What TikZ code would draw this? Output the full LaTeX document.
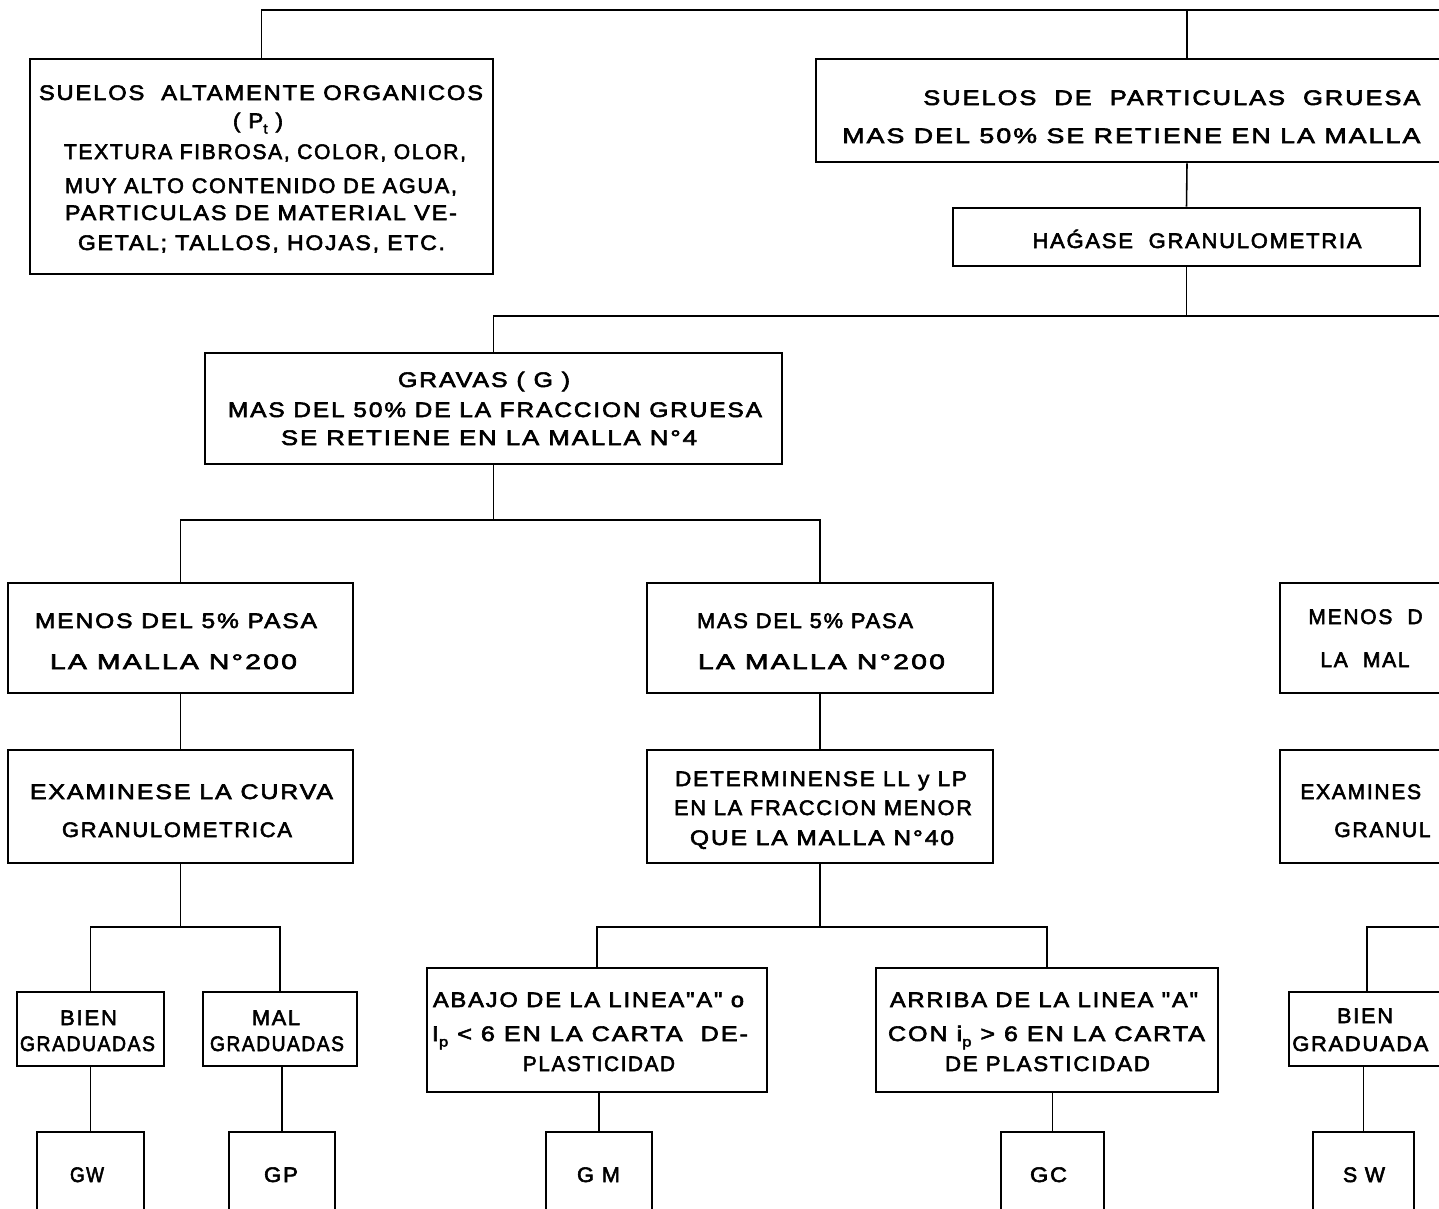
\documentclass[tikz,border=0pt]{standalone}
\usepackage{fontspec}
\usepackage{graphicx}
\setmainfont{Liberation Sans}[LetterSpace=8,FakeBold=2.6,Ligatures=TeXOff]
\newlength\pxu
\setlength\pxu{0.02cm}
% centred text line stretched to a given width (in drawing units)
\newcommand\lineat[5]{\node[txt] (#1) at (#2,#3) {\resizebox{#4\pxu}{\height}{#5}};}
% text line starting at a given left end
\newcommand\lineW[4]{\node[txtw] (#1) at (#2,#3) {#4};}
\newcommand\lowsub[1]{\raisebox{-0.5ex}{\footnotesize #1}}

\begin{document}
\begin{tikzpicture}[x=0.02cm, y=-0.02cm,
  box/.style={draw, line width=1.5pt, inner sep=0pt},
  dim/.style 2 args={minimum width=#1*0.02cm, minimum height=#2*0.02cm},
  link/.style={line width=0.9pt},
  txt/.style={anchor=base, inner sep=0pt, font=\fontsize{12}{14}\selectfont},
  txtw/.style={anchor=base west, inner sep=0pt, font=\fontsize{12}{14}\selectfont}]
\useasboundingbox (0,0) rectangle (1439,1208);
\fill[white] (0,0) rectangle (1439,1208);
\clip (0,0) rectangle (1439,1208);

% ---------- boxes ----------
\node[box, dim={463}{215}] (org)  at (261.5,166.5) {};
\node[box, dim={742}{103}] (part) at (1187,110.5) {};
\node[box, dim={467}{58}]  (hag)  at (1186.5,237) {};
\node[box, dim={577}{111}] (grav) at (493.5,408.5) {};
\node[box, dim={345}{110}] (menos) at (180.5,638) {};
\node[box, dim={346}{110}] (mas)   at (820,638) {};
\node[box, dim={345}{110}] (menosR) at (1452.5,638) {};
\node[box, dim={345}{113}] (exa)  at (180.5,806.5) {};
\node[box, dim={346}{113}] (det)  at (820,806.5) {};
\node[box, dim={345}{113}] (exaR) at (1452.5,806.5) {};
\node[box, dim={147}{74}]  (bien) at (90.5,1029) {};
\node[box, dim={154}{74}]  (mal)  at (280,1029) {};
\node[box, dim={340}{124}] (abajo) at (597,1030) {};
\node[box, dim={342}{124}] (arriba) at (1047,1030) {};
\node[box, dim={156}{74}]  (bienR) at (1367,1029) {};
\node[box, dim={107}{128}] (gw) at (90.5,1196) {};
\node[box, dim={106}{128}] (gp) at (282,1196) {};
\node[box, dim={106}{128}] (gm) at (599,1196) {};
\node[box, dim={103}{128}] (gc) at (1052.5,1196) {};
\node[box, dim={101}{128}] (sw) at (1363.5,1196) {};

% ---------- connectors ----------
\coordinate (t0) at (1480,10);
\coordinate (j0) at (1480,316);
\coordinate (j1) at (496,520);
\coordinate (j2) at (182,927);
\coordinate (j3) at (818,927);
\coordinate (j4) at (1480,927);
\draw[link] (org.north) |- (t0);
\draw[link] (part.north) -- (part.north |- t0);
\draw[link] (part.south) -- (hag.north);
\draw[link] (grav.north) |- (j0);
\draw[link] (hag.south) -- (hag.south |- j0);
\draw[link] (grav.south) -- (grav.south |- j1);
\draw[link] (menos.north) |- (j1) -| (mas.north);
\draw[link] (menos.south) -- (exa.north);
\draw[link] (mas.south) -- (det.north);
\draw[link] (menosR.south) -- (exaR.north);
\draw[link] (exa.south) -- (exa.south |- j2);
\draw[link] (bien.north) |- (j2) -| (mal.north);
\draw[link] (det.south) -- (det.south |- j3);
\draw[link] (abajo.north) |- (j3) -| (arriba.north);
\draw[link] (bienR.north) |- (j4);
\draw[link] (gw.north) -- (gw.north |- bien.south);
\draw[link] (gp.north) -- (gp.north |- mal.south);
\draw[link] (gm.north) -- (gm.north |- abajo.south);
\draw[link] (gc.north) -- (gc.north |- arriba.south);
\draw[link] (sw.north) -- (sw.north |- bienR.south);

% ---------- texts ----------
\lineat{org1}{261}{100}{444}{SUELOS\ \ ALTAMENTE ORGANICOS}
\lineat{org2}{258}{128}{50}{( P\lowsub{t} )}
\lineat{org3}{265}{159}{402}{TEXTURA FIBROSA, COLOR, OLOR,}
\lineat{org4}{261}{193}{392}{MUY ALTO CONTENIDO DE AGUA,}
\lineat{org5}{261}{220}{392}{PARTICULAS DE MATERIAL VE-}
\lineat{org6}{261.5}{250}{367}{GETAL; TALLOS, HOJAS, ETC.}

\node[txtw] (part1) at (923,105) {\resizebox{497\pxu}{\height}{SUELOS\ \ DE\ \ PARTICULAS\ \ GRUESA}};
\node[txtw] (part2) at (842,143) {\resizebox{578\pxu}{\height}{MAS DEL 50\% SE RETIENE EN LA MALLA}};
\lineat{hag1}{1197}{248}{329}{HA\'{G}ASE\ \ GRANULOMETRIA}

\lineat{grav1}{484}{387}{172}{GRAVAS ( G )}
\lineat{grav2}{495}{417}{534}{MAS DEL 50\% DE LA FRACCION GRUESA}
\lineat{grav3}{489}{445}{416}{SE RETIENE EN LA MALLA N°4}

\lineat{menos1}{176}{628}{282}{MENOS DEL 5\% PASA}
\lineat{menos2}{173.5}{669}{247}{LA MALLA N°200}
\lineat{mas1}{805}{628}{216}{MAS DEL 5\% PASA}
\lineat{mas2}{821.5}{669}{247}{LA MALLA N°200}

\lineat{exa1}{181.5}{799}{303}{EXAMINESE LA CURVA}
\lineat{exa2}{177}{837}{230}{GRANULOMETRICA}
\lineat{det1}{821}{786}{292}{DETERMINENSE LL y LP}
\lineat{det2}{823}{815}{298}{EN LA FRACCION MENOR}
\lineat{det3}{822}{845}{264}{QUE LA MALLA N°40}

\lineW{menosR1}{1308}{624}{MENOS\ \ D}
\lineW{menosR2}{1320}{667}{LA\ \ MAL}
\lineW{exaR1}{1300}{799}{EXAMINES}
\lineW{exaR2}{1334}{837}{GRANUL}

\lineat{bien1}{88.5}{1025}{57}{BIEN}
\lineat{bien2}{87.5}{1051}{135}{GRADUADAS}
\lineat{mal1}{276}{1025}{48}{MAL}
\lineat{mal2}{277}{1051}{134}{GRADUADAS}
\lineat{bienR1}{1365}{1023}{56}{BIEN}
\node[txtw] (bienR2) at (1292,1051) {\resizebox{136\pxu}{\height}{GRADUADA}};

\lineat{abajo1}{588.5}{1007}{311}{ABAJO DE LA LINEA"A" o}
\lineat{abajo2}{590}{1041}{316}{I\lowsub{p} < 6 EN LA CARTA\ \ DE-}
\lineat{abajo3}{599}{1071}{152}{PLASTICIDAD}
\lineat{arriba1}{1044}{1007}{308}{ARRIBA DE LA LINEA "A"}
\lineat{arriba2}{1046.5}{1041}{317}{CON i\lowsub{p} > 6 EN LA CARTA}
\lineat{arriba3}{1047.5}{1071}{205}{DE PLASTICIDAD}

\lineat{gw1}{87}{1182}{34}{GW}
\lineat{gp1}{281}{1182}{34}{GP}
\lineat{gm1}{598.5}{1182}{43}{G M}
\lineat{gc1}{1048.5}{1182}{37}{GC}
\lineat{sw1}{1364}{1182}{42}{S W}
\end{tikzpicture}
\end{document}
